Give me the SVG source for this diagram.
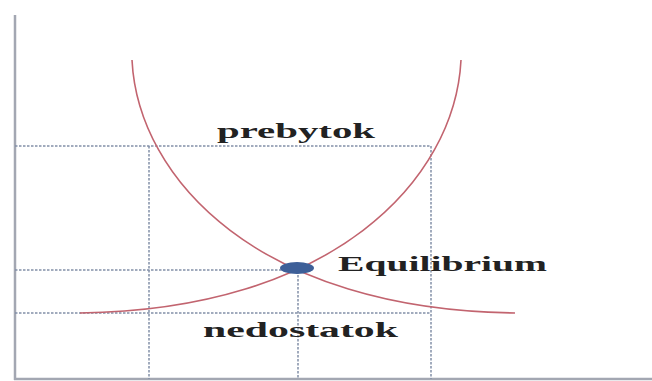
<svg xmlns="http://www.w3.org/2000/svg" width="652" height="381" viewBox="0 0 652 381">
<style>
.axis{stroke:#a3a7b2;stroke-width:2.5;fill:none}
.dash{stroke:#8390a8;stroke-width:1.5;stroke-dasharray:2.5 1.5;fill:none}
.curve{stroke:#c2646f;stroke-width:1.6;fill:none}
.lbl{font-family:"Liberation Serif","Times New Roman",serif;font-size:22px;font-weight:bold;fill:#222222}
</style>
<rect width="652" height="381" fill="#ffffff"/>
<g id="axes">
<line class="axis" x1="15" y1="15" x2="15" y2="380"/>
<line class="axis" x1="14" y1="379" x2="652" y2="379"/>
</g>
<g id="guides">
<polyline class="dash" points="15,146 431,146 431,379"/>
<line class="dash" x1="149" y1="146" x2="149" y2="379"/>
<polyline class="dash" points="15,270 298,270 298,379"/>
<line class="dash" x1="15" y1="313" x2="431" y2="313"/>
</g>
<g id="connectors">
<path id="demand" class="curve" d="M132,60 C138,180 260,310 515,313"/>
<path id="supply" class="curve" d="M461,60 C455,180 333,310 80,313"/>
</g>
<g id="equilibrium">
<ellipse cx="297" cy="268" rx="17" ry="6" fill="#3d5f98"/>
<text class="lbl" x="338" y="271" textLength="209" lengthAdjust="spacingAndGlyphs">Equilibrium</text>
</g>
<g id="prebytok">
<text class="lbl" x="217" y="138" textLength="158" lengthAdjust="spacingAndGlyphs">prebytok</text>
</g>
<g id="nedostatok">
<text class="lbl" x="203" y="337" textLength="195" lengthAdjust="spacingAndGlyphs">nedostatok</text>
</g>
</svg>
